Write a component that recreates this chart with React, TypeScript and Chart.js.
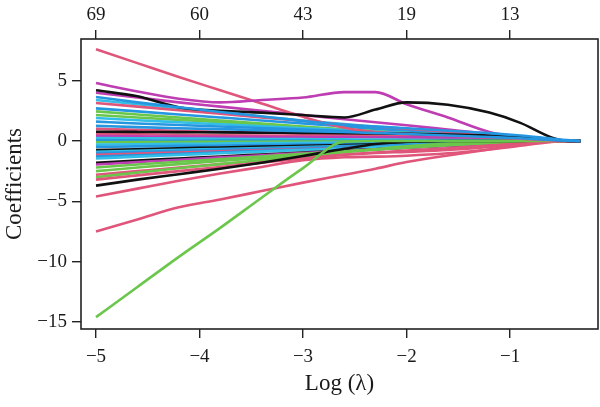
import { useEffect, useRef } from 'react';
import { Chart, registerables } from 'chart.js';

Chart.register(...registerables);

// log(lambda) grid along the regularisation path
const logLambda = [-5, -4.6, -4.2, -3.8, -3.4, -3.0, -2.6, -2.3, -2.0, -1.6, -1.2, -0.9, -0.6, -0.45, -0.32];

// bottom axis ticks, top axis labels (number of non-zero coefficients), y ticks
const bottomTicks = [-5, -4, -3, -2, -1];
const topTickLabels = ['69', '60', '43', '19', '13'];
const yTicks = [-15, -10, -5, 0, 5];

// coefficient paths
const v01 = [7.6, 6.45, 5.3, 4.2, 3.1, 2.0, 1.1, 0.75, 0.6, 0.45, 0.3, 0.18, 0.05, 0, 0];
const v02 = [4.8, 4.1, 3.5, 3.2, 3.4, 3.6, 4.05, 4.05, 3.05, 1.95, 0.75, 0.3, 0.1, 0, 0];
const v03 = [4.2, 3.7, 2.8, 2.5, 2.35, 2.15, 1.95, 2.6, 3.2, 3.0, 2.35, 1.5, 0.3, 0, 0];
const v04 = [4.0, 3.6, 3.2, 2.85, 2.5, 2.15, 1.8, 1.55, 1.3, 0.95, 0.6, 0.35, 0.1, 0, 0];
const v05 = [3.65, 3.2, 2.8, 2.4, 2.05, 1.65, 1.35, 1.2, 1.05, 0.85, 0.65, 0.45, 0.2, 0.08, 0];
const v06 = [3.4, 3.05, 2.7, 2.35, 2.0, 1.7, 1.4, 1.2, 1.0, 0.75, 0.5, 0.3, 0.1, 0, 0];
const v07 = [3.15, 2.85, 2.55, 2.25, 1.95, 1.65, 1.35, 1.15, 0.95, 0.7, 0.45, 0.25, 0.05, 0, 0];
const v08 = [2.7, 2.45, 2.2, 1.95, 1.7, 1.45, 1.2, 1.0, 0.8, 0.55, 0.35, 0.2, 0.05, 0, 0];
const v09 = [2.45, 2.2, 1.95, 1.7, 1.45, 1.2, 0.95, 0.8, 0.65, 0.45, 0.25, 0.1, 0, 0, 0];
const v10 = [2.15, 1.95, 1.75, 1.55, 1.35, 1.15, 0.95, 0.8, 0.65, 0.5, 0.3, 0.15, 0.02, 0, 0];
const v11 = [1.9, 1.72, 1.55, 1.38, 1.22, 1.06, 0.9, 0.78, 0.66, 0.5, 0.34, 0.2, 0.05, 0, 0];
const v12 = [1.6, 1.45, 1.32, 1.2, 1.08, 0.95, 0.82, 0.72, 0.62, 0.48, 0.34, 0.22, 0.08, 0.02, 0];
const v13 = [1.25, 1.15, 1.06, 0.98, 0.9, 0.82, 0.74, 0.66, 0.58, 0.46, 0.33, 0.22, 0.08, 0.02, 0];
const v14 = [1.0, 0.92, 0.84, 0.76, 0.68, 0.6, 0.52, 0.46, 0.4, 0.3, 0.2, 0.12, 0.03, 0, 0];
const v15 = [0.77, 0.75, 0.73, 0.71, 0.69, 0.67, 0.65, 0.63, 0.6, 0.54, 0.45, 0.35, 0.15, 0.02, 0];
const v16 = [0.6, 0.56, 0.52, 0.48, 0.44, 0.4, 0.36, 0.33, 0.3, 0.25, 0.18, 0.1, 0.03, 0, 0];
const v17 = [0.4, 0.38, 0.36, 0.35, 0.34, 0.33, 0.32, 0.31, 0.3, 0.28, 0.24, 0.18, 0.06, 0, 0];
const v18 = [0.25, 0.23, 0.21, 0.19, 0.17, 0.15, 0.13, 0.12, 0.1, 0.08, 0.06, 0.04, 0.01, 0, 0];
const v19 = [0.05, 0.05, 0.04, 0.04, 0.03, 0.03, 0.02, 0.02, 0.02, 0.01, 0.01, 0, 0, 0, 0];
const v20 = [-0.1, -0.09, -0.08, -0.07, -0.06, -0.05, -0.04, -0.04, -0.03, -0.02, -0.01, 0, 0, 0, 0];
const v21 = [-0.3, -0.27, -0.24, -0.21, -0.18, -0.16, -0.14, -0.12, -0.1, -0.07, -0.04, -0.02, 0, 0, 0];
const v22 = [-0.5, -0.45, -0.41, -0.37, -0.33, -0.29, -0.25, -0.22, -0.19, -0.14, -0.09, -0.05, -0.01, 0, 0];
const v23 = [-0.75, -0.68, -0.61, -0.54, -0.47, -0.4, -0.33, -0.28, -0.23, -0.16, -0.1, -0.05, -0.01, 0, 0];
const v24 = [-0.9, -0.82, -0.74, -0.66, -0.58, -0.5, -0.42, -0.36, -0.3, -0.22, -0.14, -0.08, -0.02, 0, 0];
const v25 = [-1.0, -0.91, -0.82, -0.73, -0.64, -0.55, -0.46, -0.4, -0.34, -0.25, -0.16, -0.09, -0.02, 0, 0];
const v26 = [-1.15, -1.05, -0.95, -0.85, -0.76, -0.67, -0.58, -0.52, -0.46, -0.37, -0.27, -0.18, -0.05, 0, 0];
const v27 = [-1.3, -1.18, -1.06, -0.94, -0.82, -0.7, -0.58, -0.5, -0.42, -0.3, -0.19, -0.1, -0.02, 0, 0];
const v28 = [-1.45, -1.3, -1.16, -1.02, -0.88, -0.75, -0.62, -0.53, -0.44, -0.32, -0.2, -0.11, -0.03, 0, 0];
const v29 = [-1.8, -1.62, -1.45, -1.28, -1.12, -0.96, -0.8, -0.68, -0.56, -0.4, -0.24, -0.12, -0.02, 0, 0];
const v30 = [-1.95, -1.75, -1.55, -1.36, -1.18, -1.0, -0.82, -0.69, -0.56, -0.4, -0.25, -0.13, -0.03, 0, 0];
const v31 = [-2.2, -1.95, -1.72, -1.5, -1.28, -1.06, -0.85, -0.7, -0.55, -0.36, -0.18, -0.06, 0, 0, 0];
const v32 = [-2.5, -2.2, -1.92, -1.65, -1.4, -1.15, -0.9, -0.72, -0.54, -0.33, -0.14, -0.04, 0, 0, 0];
const v33 = [-2.8, -2.5, -2.2, -1.92, -1.65, -1.38, -1.12, -0.95, -0.8, -0.6, -0.38, -0.2, -0.04, 0, 0];
const v34 = [-3.0, -2.62, -2.26, -1.92, -1.58, -1.25, -0.92, -0.68, -0.45, -0.22, -0.06, 0, 0, 0, 0];
const v35 = [-3.2, -2.85, -2.5, -2.15, -1.8, -1.45, -1.15, -1.0, -0.9, -0.75, -0.5, -0.28, -0.06, 0, 0];
const v36 = [-3.7, -3.2, -2.75, -2.3, -1.8, -1.25, -0.65, -0.25, -0.05, 0, 0, 0, 0, 0, 0];
const v37 = [-4.6, -3.95, -3.3, -2.7, -2.15, -1.6, -1.35, -1.3, -1.22, -1.02, -0.7, -0.4, -0.08, 0, 0];
const v38 = [-7.5, -6.5, -5.5, -4.85, -4.15, -3.45, -2.8, -2.3, -1.75, -1.2, -0.7, -0.3, -0.02, 0, 0];
const v39 = [-14.6, -12.1, -9.6, -7.2, -4.7, -2.25, -0.05, 0, 0, 0, 0, 0, 0, 0, 0];

const colours: Record<string, string> = {
  black: '#111111',
  red: '#E0557A',
  green: '#6BC64C',
  blue: '#2596E0',
  cyan: '#32BEE6',
  magenta: '#BE3DB2',
};

// drawn top-most first
const paths: { values: number[]; col: string }[] = [
  { values: v05, col: 'blue' },
  { values: v13, col: 'blue' },
  { values: v15, col: 'black' },
  { values: v03, col: 'black' },
  { values: v02, col: 'magenta' },
  { values: v01, col: 'red' },
  { values: v39, col: 'green' },
  { values: v38, col: 'red' },
  { values: v37, col: 'red' },
  { values: v36, col: 'black' },
  { values: v35, col: 'red' },
  { values: v34, col: 'green' },
  { values: v33, col: 'red' },
  { values: v32, col: 'green' },
  { values: v31, col: 'green' },
  { values: v30, col: 'magenta' },
  { values: v29, col: 'black' },
  { values: v28, col: 'cyan' },
  { values: v27, col: 'blue' },
  { values: v26, col: 'red' },
  { values: v25, col: 'blue' },
  { values: v24, col: 'cyan' },
  { values: v23, col: 'black' },
  { values: v22, col: 'blue' },
  { values: v21, col: 'cyan' },
  { values: v20, col: 'green' },
  { values: v19, col: 'blue' },
  { values: v18, col: 'cyan' },
  { values: v17, col: 'magenta' },
  { values: v16, col: 'red' },
  { values: v14, col: 'red' },
  { values: v12, col: 'blue' },
  { values: v11, col: 'cyan' },
  { values: v10, col: 'green' },
  { values: v09, col: 'green' },
  { values: v08, col: 'blue' },
  { values: v07, col: 'red' },
  { values: v06, col: 'cyan' },
  { values: v04, col: 'magenta' },
];

const FAMILY = '"Liberation Serif", "Times New Roman", serif';
const FONT = { family: FAMILY, size: 19 };
const TITLE_FONT = { family: FAMILY, size: 23 };
const INK = '#1a1a1a';

const fmtMinus = (v: number) => (v < 0 ? '\u2212' + Math.abs(v) : String(v));

const framePlugin = {
  id: 'frame',
  afterDraw(chart: any) {
    const { ctx, chartArea } = chart;
    const { left, top, right, bottom } = chartArea;
    ctx.save();
    ctx.strokeStyle = '#222';
    ctx.lineWidth = 1.6;
    ctx.strokeRect(left, top, right - left, bottom - top);
    ctx.restore();
  },
};

const tickGrid = {
  drawOnChartArea: false,
  drawTicks: true,
  tickLength: 9,
  color: '#222',
  lineWidth: 1.4,
};

export default function App() {
  const ref = useRef<HTMLCanvasElement | null>(null);

  useEffect(() => {
    if (!ref.current) return;
    const xMin = -5.145;
    const xMax = -0.15;
    const chart = new Chart(ref.current, {
      type: 'line',
      data: {
        datasets: paths.map((p) => ({
          data: p.values.map((y, i) => ({ x: logLambda[i], y })),
          borderColor: colours[p.col],
          borderWidth: 2.6,
          pointRadius: 0,
          fill: false,
          cubicInterpolationMode: 'monotone' as const,
          xAxisID: 'x',
          yAxisID: 'y',
        })),
      },
      options: {
        animation: false,
        responsive: false,
        maintainAspectRatio: false,
        events: [],
        layout: { padding: { left: 0, right: 2, top: 0, bottom: 0 } },
        plugins: { legend: { display: false }, tooltip: { enabled: false } },
        scales: {
          x: {
            type: 'linear',
            position: 'bottom',
            min: xMin,
            max: xMax,
            afterBuildTicks: (s: any) => {
              s.ticks = bottomTicks.map((v) => ({ value: v }));
            },
            ticks: {
              callback: (v: any) => fmtMinus(Number(v)),
              font: FONT,
              color: INK,
              padding: 8,
              maxRotation: 0,
              autoSkip: false,
            },
            grid: tickGrid,
            border: { display: false },
            title: {
              display: true,
              text: 'Log (\u03bb)',
              font: TITLE_FONT,
              color: INK,
              padding: { top: 0, bottom: 9 },
            },
            afterFit: (s: any) => {
              s.height = 78;
            },
          },
          xTop: {
            type: 'linear',
            position: 'top',
            min: xMin,
            max: xMax,
            afterBuildTicks: (s: any) => {
              s.ticks = bottomTicks.map((v) => ({ value: v }));
            },
            ticks: {
              callback: (_v: any, i: number) => topTickLabels[i],
              font: FONT,
              color: INK,
              padding: 4,
              maxRotation: 0,
              autoSkip: false,
            },
            grid: tickGrid,
            border: { display: false },
            afterFit: (s: any) => {
              s.height = 39;
            },
          },
          y: {
            type: 'linear',
            min: -15.58,
            max: 8.45,
            afterBuildTicks: (s: any) => {
              s.ticks = yTicks.map((v) => ({ value: v }));
            },
            ticks: {
              callback: (v: any) => fmtMinus(Number(v)),
              font: FONT,
              color: INK,
              padding: 5,
              autoSkip: false,
            },
            grid: tickGrid,
            border: { display: false },
            title: {
              display: true,
              text: 'Coefficients',
              font: TITLE_FONT,
              color: INK,
              padding: { top: 1, bottom: 0 },
            },
            afterFit: (s: any) => {
              s.width = 81;
            },
          },
        },
      },
      plugins: [framePlugin],
    } as any);
    return () => chart.destroy();
  }, []);

  return (
    <div style={{ position: 'absolute', left: 0, top: 0, width: 600, height: 407, background: '#fff' }}>
      <canvas ref={ref} width={600} height={407} style={{ display: 'block', width: 600, height: 407 }} />
    </div>
  );
}
